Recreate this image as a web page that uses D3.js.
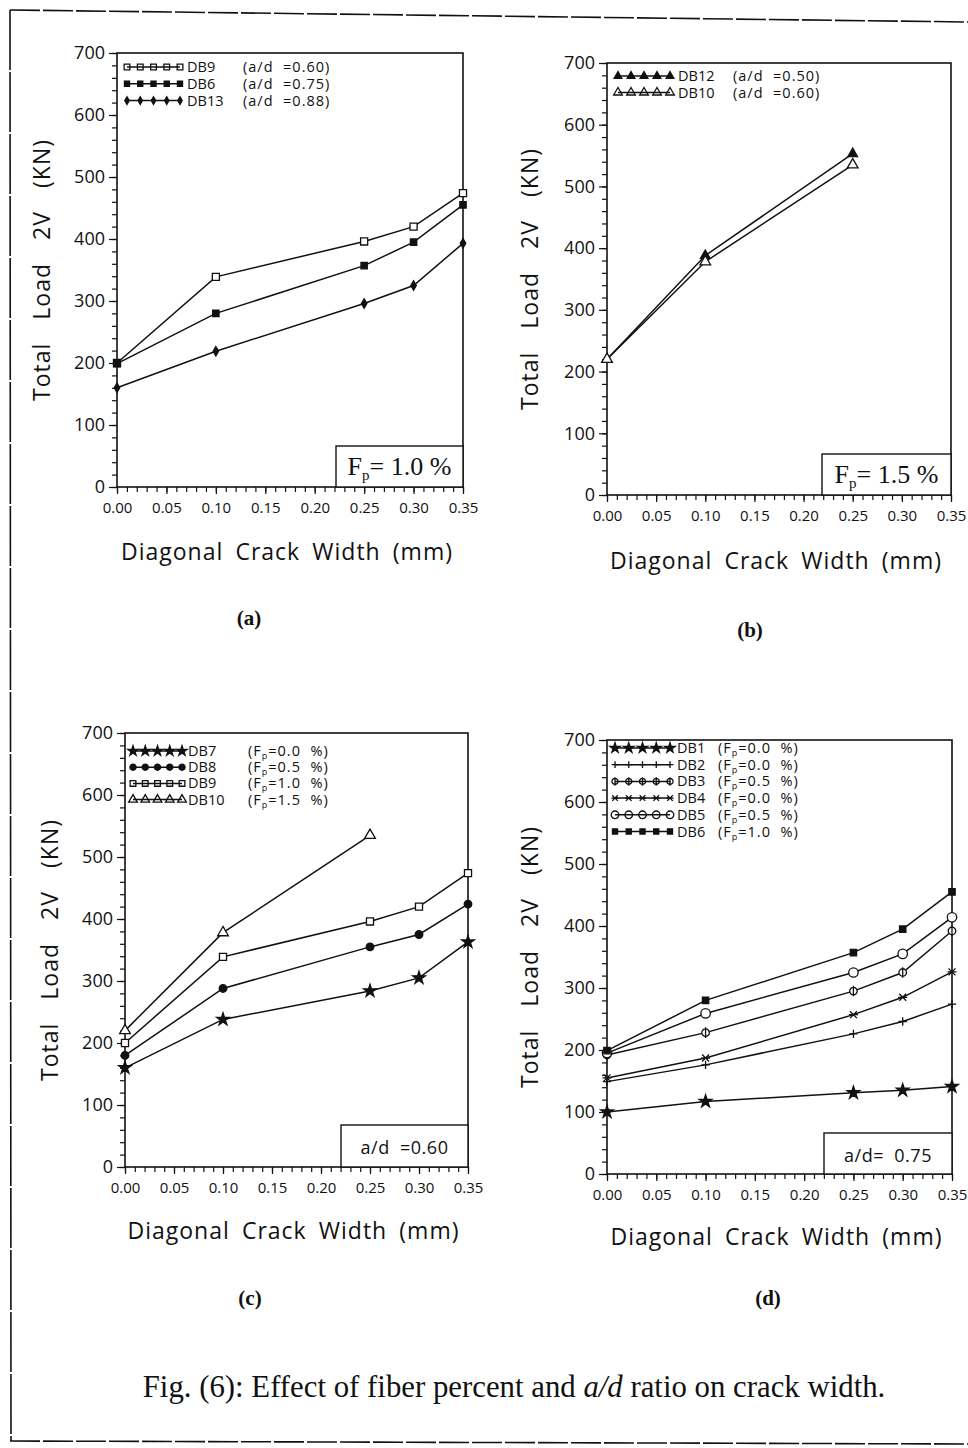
<!DOCTYPE html>
<html>
<head>
<meta charset="utf-8">
<script src="https://cdn.jsdelivr.net/npm/d3@7"></script>
<style>
  body { margin: 0; background: #fff; }
  text { fill: #111; }
</style>
</head>
<body>
<div id="chart"></div>
<script>
// crack widths (mm)
const crackWidth = [0.0, 0.1, 0.25, 0.3, 0.35];
const crackWidthShort = [0.0, 0.1, 0.25];

// total load 2V (kN)
const db1 = [100, 117, 131, 135, 141];
const db2 = [149, 176, 226, 246, 274];
const db3 = [192, 228, 295, 325, 392];
const db4 = [155, 187, 257, 285, 326];
const db5 = [195, 259, 325, 355, 414];
const db6 = [199, 280, 357, 395, 455];
const db7 = [160, 238, 284, 305, 363];
const db8 = [180, 288, 355, 375, 424];
const db9 = [200, 339, 396, 420, 474];
const db10 = [220, 378, 535];
const db12 = [220, 388, 553];
const db13 = [160, 219, 296, 325, 393];

const yTicks = [0, 100, 200, 300, 400, 500, 600, 700];
const xTicks = [0.0, 0.05, 0.1, 0.15, 0.2, 0.25, 0.3, 0.35];
const xTickLabels = ["0.00", "0.05", "0.10", "0.15", "0.20", "0.25", "0.30", "0.35"];

const svg = d3.select("#chart").append("svg").attr("width", 968).attr("height", 1448);

// page frame
svg.append("line").attr("x1", 10).attr("y1", 10).attr("x2", 968).attr("y2", 22)
  .attr("stroke", "#111").attr("stroke-width", 1.6).attr("stroke-dasharray", "30,3");
svg.append("line").attr("x1", 10).attr("y1", 10).attr("x2", 11).attr("y2", 1441)
  .attr("stroke", "#111").attr("stroke-width", 1.6).attr("stroke-dasharray", "60,2");
svg.append("line").attr("x1", 10).attr("y1", 1441).attr("x2", 968).attr("y2", 1444)
  .attr("stroke", "#111").attr("stroke-width", 1.6).attr("stroke-dasharray", "30,3");

// custom symbols
const plusSym = {
  draw(ctx, size) {
    const r = Math.sqrt(size) / 2;
    ctx.moveTo(-r, 0); ctx.lineTo(r, 0);
    ctx.moveTo(0, -r); ctx.lineTo(0, r);
  }
};
const timesSym = {
  draw(ctx, size) {
    const r = Math.sqrt(size) / 2.4;
    ctx.moveTo(-r, -r); ctx.lineTo(r, r);
    ctx.moveTo(-r, r); ctx.lineTo(r, -r);
    ctx.moveTo(-r * 1.3, 0); ctx.lineTo(r * 1.3, 0);
  }
};
const thetaSym = {
  draw(ctx, size) {
    const r = Math.sqrt(size) / 2.3;
    ctx.moveTo(r, 0);
    ctx.arc(0, 0, r, 0, 2 * Math.PI);
    ctx.moveTo(0, -r * 1.4); ctx.lineTo(0, r * 1.4);
  }
};

const markers = {
  openSquare: { type: d3.symbolSquare, size: 50, fill: false },
  fillSquare: { type: d3.symbolSquare, size: 40, fill: true },
  fillCircle: { type: d3.symbolCircle, size: 45, fill: true },
  openCircle: { type: d3.symbolCircle, size: 70, fill: false },
  diamond: { type: d3.symbolDiamond, size: 26, fill: true },
  fillTri: { type: d3.symbolTriangle, size: 40, fill: true },
  openTri: { type: d3.symbolTriangle, size: 50, fill: false },
  star: { type: d3.symbolStar, size: 50, fill: true },
  plus: { type: plusSym, size: 70, fill: false },
  times: { type: timesSym, size: 70, fill: false },
  theta: { type: thetaSym, size: 75, fill: false }
};

const panels = [
  {
    x0: 117, x1: 463, yTop: 53, yBot: 487,
    series: [
      { name: "DB9", note: "(a/d  =0.60)", xs: crackWidth, ys: db9, marker: "openSquare" },
      { name: "DB6", note: "(a/d  =0.75)", xs: crackWidth, ys: db6, marker: "fillSquare" },
      { name: "DB13", note: "(a/d  =0.88)", xs: crackWidth, ys: db13, marker: "diamond" }
    ],
    legend: { top: 14, step: 16.8, s0: 10, s1: 63, nameX: 70, noteX: 126 },
    box: { kind: "fp", text: "= 1.0 %", w: 127, h: 41 },
    yTitleX: 50, xTitleY: 560,
    label: { text: "(a)", x: 249, y: 625 }
  },
  {
    x0: 607, x1: 951, yTop: 63, yBot: 495,
    series: [
      { name: "DB12", note: "(a/d  =0.50)", xs: crackWidthShort, ys: db12, marker: "fillTri" },
      { name: "DB10", note: "(a/d  =0.60)", xs: crackWidthShort, ys: db10, marker: "openTri" }
    ],
    legend: { top: 13, step: 16.5, s0: 11, s1: 63, nameX: 71, noteX: 126 },
    box: { kind: "fp", text: "= 1.5 %", w: 129, h: 41 },
    yTitleX: 538, xTitleY: 569,
    label: { text: "(b)", x: 750, y: 637 }
  },
  {
    x0: 125, x1: 468, yTop: 733, yBot: 1167,
    series: [
      { name: "DB7", note: "(F_p=0.0  %)", xs: crackWidth, ys: db7, marker: "star" },
      { name: "DB8", note: "(F_p=0.5  %)", xs: crackWidth, ys: db8, marker: "fillCircle" },
      { name: "DB9", note: "(F_p=1.0  %)", xs: crackWidth, ys: db9, marker: "openSquare" },
      { name: "DB10", note: "(F_p=1.5  %)", xs: crackWidthShort, ys: db10, marker: "openTri" }
    ],
    legend: { top: 18, step: 16.2, s0: 8, s1: 57, nameX: 63, noteX: 123 },
    box: { kind: "ad", text: "a/d  =0.60", w: 127, h: 42 },
    yTitleX: 58, xTitleY: 1239,
    label: { text: "(c)", x: 250, y: 1305 }
  },
  {
    x0: 607, x1: 952, yTop: 740, yBot: 1174,
    series: [
      { name: "DB1", note: "(F_p=0.0  %)", xs: crackWidth, ys: db1, marker: "star" },
      { name: "DB2", note: "(F_p=0.0  %)", xs: crackWidth, ys: db2, marker: "plus" },
      { name: "DB3", note: "(F_p=0.5  %)", xs: crackWidth, ys: db3, marker: "theta" },
      { name: "DB4", note: "(F_p=0.0  %)", xs: crackWidth, ys: db4, marker: "times" },
      { name: "DB5", note: "(F_p=0.5  %)", xs: crackWidth, ys: db5, marker: "openCircle" },
      { name: "DB6", note: "(F_p=1.0  %)", xs: crackWidth, ys: db6, marker: "fillSquare" }
    ],
    legend: { top: 8, step: 16.7, s0: 8, s1: 63, nameX: 70, noteX: 111 },
    box: { kind: "ad", text: "a/d=  0.75", w: 128, h: 41 },
    yTitleX: 538, xTitleY: 1245,
    label: { text: "(d)", x: 768, y: 1305 }
  }
];

const sansFont = "'Open Sans', 'DejaVu Sans', sans-serif";
const serifFont = "'Liberation Serif', 'DejaVu Serif', serif";

function drawMarker(g, mk, x, y, legend) {
  const m = markers[mk];
  const s = legend ? m.size * 0.65 : m.size;
  g.append("path")
    .attr("d", d3.symbol().type(m.type).size(s)())
    .attr("transform", "translate(" + x + "," + y + ")")
    .attr("fill", m.fill ? "#111" : (legend ? "none" : "#fff"))
    .attr("stroke", "#111")
    .attr("stroke-width", 1.3);
}

function addNote(textSel, note, subSize, shift) {
  const parts = note.split("_p");
  textSel.append("tspan").text(parts[0]);
  if (parts.length > 1) {
    textSel.append("tspan").attr("dy", shift).style("font-size", subSize).text("p");
    textSel.append("tspan").attr("dy", -shift).text(parts[1]);
  }
}

// spread words so the title fills a given length
function spreadWords(sel, target) {
  const natural = sel.node().getComputedTextLength();
  const gaps = sel.text().split(" ").length - 1;
  sel.style("word-spacing", ((target - natural) / gaps) + "px");
}

panels.forEach(function (p) {
  const x = d3.scaleLinear().domain([0, 0.35]).range([p.x0, p.x1]);
  const y = d3.scaleLinear().domain([0, 700]).range([p.yBot, p.yTop]);
  const g = svg.append("g");

  // minor ticks
  g.append("g").attr("transform", "translate(" + p.x0 + ",0)")
    .call(d3.axisLeft(y).tickValues(d3.range(0, 701, 20)).tickSize(5).tickFormat(""))
    .call(s => s.select(".domain").remove());
  g.append("g").attr("transform", "translate(0," + p.yBot + ")")
    .call(d3.axisBottom(x).tickValues(d3.range(0, 36).map(d => d / 100)).tickSize(5).tickFormat(""))
    .call(s => s.select(".domain").remove());

  // major ticks + labels
  g.append("g").attr("transform", "translate(" + p.x0 + ",0)")
    .call(d3.axisLeft(y).tickValues(yTicks).tickSize(8).tickPadding(4))
    .call(s => s.select(".domain").remove())
    .call(s => s.selectAll("text").style("font-family", sansFont).style("font-size", "18px"));
  g.append("g").attr("transform", "translate(0," + p.yBot + ")")
    .call(d3.axisBottom(x).tickValues(xTicks).tickSize(7).tickPadding(8)
      .tickFormat((d, i) => xTickLabels[i]))
    .call(s => s.select(".domain").remove())
    .call(s => s.selectAll("text").style("font-family", sansFont).style("font-size", "15px"));
  g.selectAll(".tick line").attr("stroke", "#111").attr("stroke-width", 1.2);

  // frame
  g.append("rect")
    .attr("x", p.x0).attr("y", p.yTop)
    .attr("width", p.x1 - p.x0).attr("height", p.yBot - p.yTop)
    .attr("fill", "none").attr("stroke", "#111").attr("stroke-width", 1.6);

  // series
  const line = d3.line().x(d => x(d[0])).y(d => y(d[1]));
  p.series.forEach(function (s) {
    const pts = s.xs.map((v, i) => [v, s.ys[i]]);
    g.append("path").datum(pts).attr("d", line)
      .attr("fill", "none").attr("stroke", "#111").attr("stroke-width", 1.5);
    pts.forEach(d => drawMarker(g, s.marker, x(d[0]), y(d[1]), false));
  });

  // legend
  const L = p.legend;
  p.series.forEach(function (s, i) {
    const ly = p.yTop + L.top + i * L.step;
    g.append("line").attr("x1", p.x0 + L.s0).attr("x2", p.x0 + L.s1)
      .attr("y1", ly).attr("y2", ly).attr("stroke", "#111").attr("stroke-width", 1.5);
    d3.range(5).forEach(k => {
      drawMarker(g, s.marker, p.x0 + L.s0 + k * (L.s1 - L.s0) / 4, ly, true);
    });
    g.append("text").attr("x", p.x0 + L.nameX).attr("y", ly + 5)
      .style("font-family", sansFont).style("font-size", "14.5px").text(s.name);
    const t = g.append("text").attr("x", p.x0 + L.noteX).attr("y", ly + 5)
      .style("font-family", sansFont).style("font-size", "14.5px")
      .style("letter-spacing", "1px").style("white-space", "pre");
    addNote(t, s.note, "9px", 3);
  });

  // info box
  const B = p.box;
  g.append("rect").attr("x", p.x1 - B.w).attr("y", p.yBot - B.h)
    .attr("width", B.w).attr("height", B.h)
    .attr("fill", "#fff").attr("stroke", "#111").attr("stroke-width", 1.4);
  const bt = g.append("text")
    .attr("x", p.x1 - B.w / 2).attr("y", p.yBot - B.h / 2 + 8)
    .attr("text-anchor", "middle").style("white-space", "pre");
  if (B.kind === "fp") {
    bt.style("font-family", serifFont).style("font-size", "26px");
    addNote(bt, "F_p" + B.text, "15px", 5);
  } else {
    bt.style("font-family", sansFont).style("font-size", "18px")
      .style("letter-spacing", "0.5px").text(B.text);
  }

  // axis titles
  const yt = svg.append("text")
    .attr("transform", "translate(" + p.yTitleX + "," + (p.yTop + p.yBot) / 2 + ") rotate(-90)")
    .attr("text-anchor", "middle")
    .style("font-family", sansFont).style("font-size", "23px").style("letter-spacing", "1px")
    .text("Total Load 2V (KN)");
  spreadWords(yt, 262);
  const xt = svg.append("text")
    .attr("x", (p.x0 + p.x1) / 2 - 3).attr("y", p.xTitleY)
    .attr("text-anchor", "middle")
    .style("font-family", sansFont).style("font-size", "23px").style("letter-spacing", "1px")
    .text("Diagonal Crack Width (mm)");
  spreadWords(xt, 332);

  // panel label
  svg.append("text").attr("x", p.label.x).attr("y", p.label.y)
    .attr("text-anchor", "middle")
    .style("font-family", serifFont).style("font-size", "21px").style("font-weight", "bold")
    .text(p.label.text);
});

// caption
const cap = svg.append("text").attr("x", 514).attr("y", 1397)
  .attr("text-anchor", "middle")
  .style("font-family", serifFont).style("font-size", "30.8px");
cap.append("tspan").text("Fig. (6): Effect of fiber percent and ");
cap.append("tspan").style("font-style", "italic").text("a/d");
cap.append("tspan").text(" ratio on crack width.");
</script>
</body>
</html>
